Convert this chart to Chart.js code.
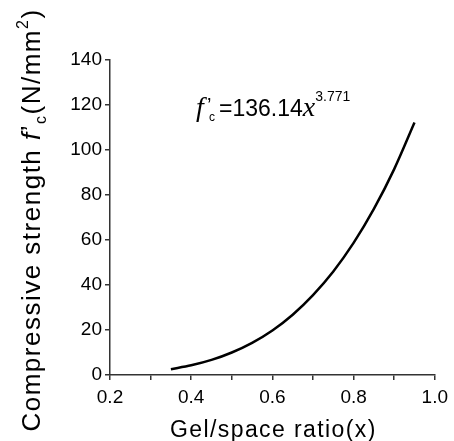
<!DOCTYPE html>
<html>
<head>
<meta charset="utf-8">
<script src="https://cdn.jsdelivr.net/npm/chart.js@4/dist/chart.umd.min.js"></script>
<style>
  html, body { margin: 0; padding: 0; background: #fff; }
  #wrap { width: 454px; height: 441px; }
</style>
</head>
<body>
<div id="wrap"><canvas id="chart" width="454" height="441"></canvas></div>
<script>
// gel/space ratio and strength
const gelSpace = [0.35, 0.40, 0.45, 0.50, 0.55, 0.60, 0.65, 0.70, 0.75, 0.80, 0.85, 0.90, 0.95];
const strength = [2.6, 4.3, 6.7, 10.0, 14.3, 19.8, 26.8, 35.5, 46.0, 58.7, 73.8, 91.5, 112.2];

const xTicks = [0.2, 0.4, 0.6, 0.8, 1.0];
const yTicks = [0, 20, 40, 60, 80, 100, 120, 140];

const sans = "'Liberation Sans', Arial, sans-serif";

const points = gelSpace.map((x, i) => ({ x: x, y: strength[i] }));

// draw a run of text pieces (different fonts / offsets) starting at x
function drawRun(ctx, parts, x, y) {
  parts.forEach(p => {
    ctx.font = p.f;
    x += p.gap || 0;
    ctx.fillText(p.t, x, y + p.dy);
    x += p.adv !== undefined ? p.adv : ctx.measureText(p.t).width;
  });
}

function runWidth(ctx, parts) {
  let w = 0;
  parts.forEach(p => { ctx.font = p.f; w += ctx.measureText(p.t).width; });
  return w;
}

// axis titles and the fitted formula, with italic / sub / superscripts
const textPlugin = {
  id: 'labels',
  afterDraw(chart) {
    const ctx = chart.ctx;
    const area = chart.chartArea;
    ctx.save();
    ctx.fillStyle = '#000';
    ctx.textBaseline = 'alphabetic';
    ctx.letterSpacing = '1.4px';

    // x title
    ctx.font = "23px " + sans;
    ctx.textAlign = 'center';
    ctx.fillText('Gel/space ratio(x)', (area.left + area.right) / 2 + 1, 437);

    // y title, rotated
    ctx.letterSpacing = '1.5px';
    ctx.translate(40, 220);
    ctx.rotate(-Math.PI / 2);
    ctx.textAlign = 'left';
    const parts = [
      { t: 'Compressive strength ', f: "26px " + sans, dy: 0 },
      { t: 'f', f: "italic 26px " + sans, dy: 0 },
      { t: '\u2019', f: "26px " + sans, dy: -1 },
      { t: 'c', f: "16px " + sans, dy: 6 },
      { t: '(N/mm', f: "26px " + sans, dy: 0 },
      { t: '2', f: "16px " + sans, dy: -12 },
      { t: ')', f: "26px " + sans, dy: 0 }
    ];
    drawRun(ctx, parts, -runWidth(ctx, parts) / 2, 0);
    ctx.restore();

    // formula
    ctx.save();
    ctx.fillStyle = '#000';
    ctx.textAlign = 'left';
    const eq = [
      { t: 'f', f: "italic 28px 'Liberation Serif', serif", dy: 0, adv: 11 },
      { t: '\u2019', f: "20px " + sans, dy: -4, adv: 2 },
      { t: 'c', f: "12px " + sans, dy: 5, adv: 10 },
      { t: '=136.14', f: "23px " + sans, dy: 0 },
      { t: 'x', f: "italic 28px 'Liberation Serif', serif", dy: 0 },
      { t: '3.771', f: "14px " + sans, dy: -15 }
    ];
    drawRun(ctx, eq, 196, 116);
    ctx.restore();
  }
};

new Chart(document.getElementById('chart'), {
  type: 'scatter',
  data: {
    datasets: [{
      data: points,
      showLine: true,
      borderColor: '#000',
      borderWidth: 2.5,
      pointRadius: 0,
      cubicInterpolationMode: 'monotone',
      fill: false
    }]
  },
  options: {
    responsive: false,
    animation: false,
    layout: { padding: { left: 0, right: 16, top: 60, bottom: 0 } },
    plugins: {
      legend: { display: false },
      tooltip: { enabled: false }
    },
    scales: {
      x: {
        type: 'linear',
        min: 0.2,
        max: 1.0,
        afterFit: s => { s.height = 66; },
        afterBuildTicks: s => {
          const t = [];
          for (let i = 2; i <= 10; i++) t.push({ value: i / 10 });
          s.ticks = t;
        },
        border: { display: true, color: '#333', width: 1.5 },
        grid: { drawOnChartArea: false, drawTicks: true, tickLength: 5, color: '#333', lineWidth: 1.5 },
        ticks: {
          color: '#000',
          padding: 6,
          font: { family: sans, size: 19 },
          maxRotation: 0,
          callback: v => {
            const r = Math.round(v * 10) / 10;
            return xTicks.some(t => Math.abs(t - r) < 1e-6) ? r.toFixed(1) : '';
          }
        }
      },
      y: {
        min: 0,
        max: 140,
        afterFit: s => { s.width = 110; },
        afterBuildTicks: s => {
          const t = [];
          for (let v = 0; v <= 140; v += 10) t.push({ value: v });
          s.ticks = t;
        },
        border: { display: true, color: '#333', width: 1.5 },
        grid: { drawOnChartArea: false, drawTicks: true, tickLength: 5, color: '#333', lineWidth: 1.5 },
        ticks: {
          color: '#000',
          padding: 3,
          font: { family: sans, size: 19 },
          callback: v => yTicks.includes(v) ? String(v) : ''
        }
      }
    }
  },
  plugins: [textPlugin]
});
</script>
</body>
</html>
